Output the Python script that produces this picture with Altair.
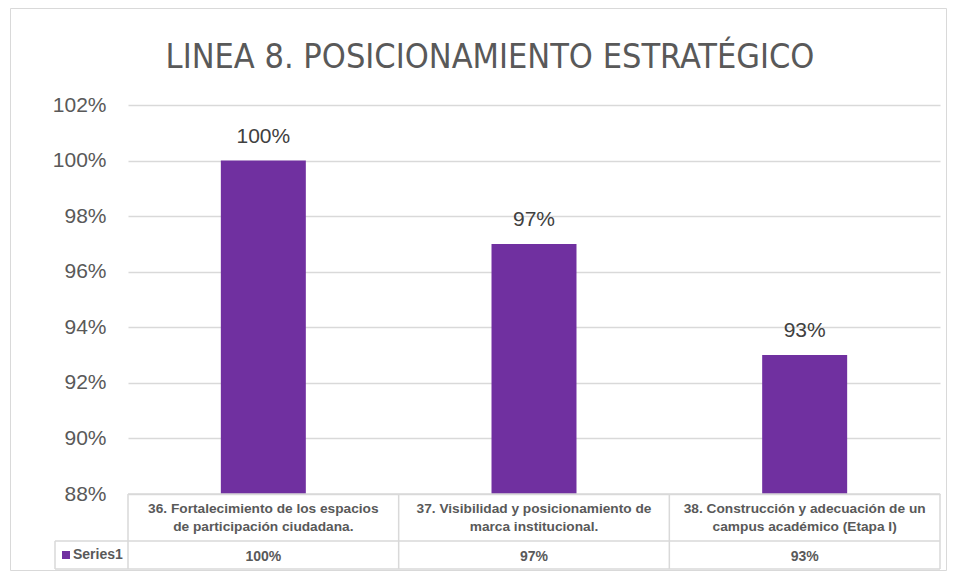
import altair as alt
import pandas as pd

# ---- data ----
categories = [
    "36. Fortalecimiento de los espacios de participación ciudadana.",
    "37. Visibilidad y posicionamiento de marca institucional.",
    "38. Construcción y adecuación de un campus académico (Etapa I)",
]
category_lines = [
    "36. Fortalecimiento de los espacios\nde participación ciudadana.",
    "37. Visibilidad y posicionamiento de\nmarca institucional.",
    "38. Construcción y adecuación de un\ncampus académico (Etapa I)",
]
values = [1.00, 0.97, 0.93]
value_labels = ["100%", "97%", "93%"]
series_name = "Series1"
y_ticks = [0.88, 0.90, 0.92, 0.94, 0.96, 0.98, 1.00, 1.02]
title_text = "LINEA 8.  POSICIONAMIENTO ESTRATÉGICO"

PURPLE = "#7030a0"
GRID = "#d9d9d9"
TXT = "#595959"
FONT = "Liberation Sans"

W, H = 812, 389
n = len(categories)
step = W / n

df = pd.DataFrame({
    "category": categories,
    "lines": category_lines,
    "value": values,
    "label": value_labels,
})

x_enc = alt.X(
    "category:N",
    sort=categories,
    scale=alt.Scale(paddingInner=0.686, paddingOuter=0.343),
    axis=None,
)

bars = alt.Chart(df).mark_bar(color=PURPLE, clip=True).encode(
    x=x_enc,
    y=alt.Y(
        "value:Q",
        scale=alt.Scale(domain=[0.88, 1.02], zero=False, nice=False),
        axis=alt.Axis(
            values=y_ticks, format=".0%", title=None, domain=False, ticks=False,
            labelPadding=22, labelFontSize=21, labelColor=TXT, labelFont=FONT,
            gridColor=GRID, gridWidth=1.3,
        ),
    ),
    y2=alt.datum(0.88),
)

bar_labels = alt.Chart(df).mark_text(
    baseline="alphabetic", dy=-18, fontSize=21, color="#404040", font=FONT
).encode(x=x_enc, y="value:Q", text="label:N")

# ---- data table below the plot ----
cat_text = alt.Chart(df).mark_text(
    baseline="middle", align="center", lineBreak="\n", lineHeight=18,
    fontSize=13.7, fontWeight="bold", color=TXT, font=FONT,
).encode(x=x_enc, y=alt.value(H + 15), text="lines:N")

val_text = alt.Chart(df).mark_text(
    baseline="middle", align="center", fontSize=14, fontWeight="bold",
    color=TXT, font=FONT,
).encode(x=x_enc, y=alt.value(H + 63), text="label:N")

legend_df = pd.DataFrame({"series": [series_name], "title": [title_text]})
legend_sq = alt.Chart(legend_df).mark_square(size=64, color=PURPLE, opacity=1).encode(
    x=alt.value(-62), y=alt.value(H + 61)
)
legend_txt = alt.Chart(legend_df).mark_text(
    align="left", baseline="middle", fontSize=14, fontWeight="bold",
    color=TXT, font=FONT,
).encode(x=alt.value(-55), y=alt.value(H + 61), text="series:N")

# chart title as a text mark
title_mark = alt.Chart(legend_df).mark_text(
    align="center", baseline="alphabetic", fontSize=34,
    font="DejaVu Sans Condensed", color=TXT,
).encode(x=alt.value(362), y=alt.value(-37), text="title:N")

# table grid lines (layout, derived from the plot size)
hl = pd.DataFrame({
    "x": [0, -73, -73],
    "x2": [W, W, W],
    "y": [H, H + 47, H + 75],
})
vl = pd.DataFrame({
    "x": [-73] + [i * step for i in range(n + 1)],
    "y": [H + 47] + [H] * (n + 1),
    "y2": [H + 75] * (n + 2),
})
h_rules = alt.Chart(hl).mark_rule(color=GRID, strokeWidth=1.5).encode(
    x=alt.X("x:Q", scale=None), x2="x2:Q", y=alt.Y("y:Q", scale=None)
)
v_rules = alt.Chart(vl).mark_rule(color=GRID, strokeWidth=1.5).encode(
    x=alt.X("x:Q", scale=None), y=alt.Y("y:Q", scale=None), y2="y2:Q"
)

frame = alt.Chart(legend_df).mark_rect(
    fill="transparent", stroke=GRID, strokeWidth=1
).encode(
    x=alt.value(-117.5), x2=alt.value(W + 6.5),
    y=alt.value(-96.5), y2=alt.value(H + 76.5),
)

chart = alt.layer(
    frame, title_mark, bars, bar_labels, h_rules, v_rules, cat_text, val_text,
    legend_sq, legend_txt
).properties(
    width=W,
    height=H,
    autosize=alt.AutoSizeParams(type="none"),
    padding={"left": 120, "top": 97, "right": 8, "bottom": 78},
).configure_view(stroke=None)

chart.save("out.html", embed_options={"renderer": "svg", "actions": False})
